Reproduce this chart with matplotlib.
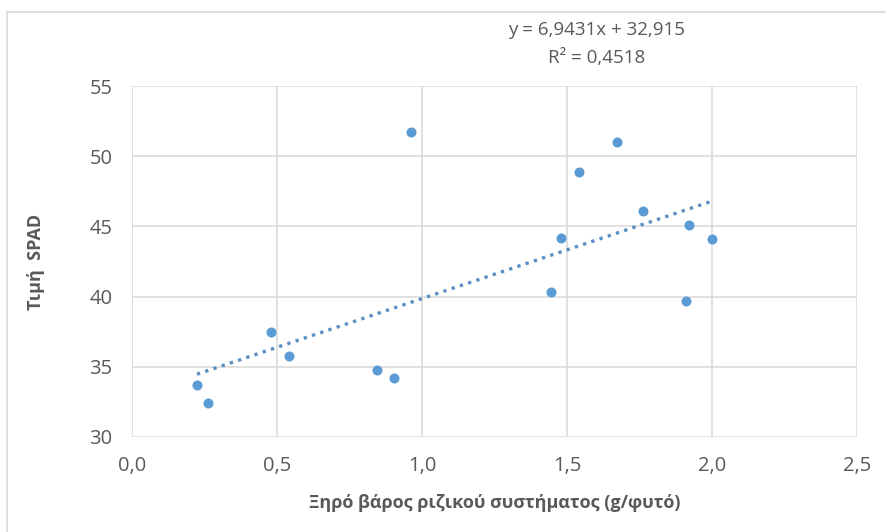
import matplotlib
matplotlib.use('Agg')
from matplotlib import pyplot as plt
from matplotlib.patches import Rectangle
import numpy as np

# dry root weight (g/plant) and SPAD value
root_weight = [0.224, 0.262, 0.479, 0.541, 0.845, 0.903, 0.962, 1.445,
               1.479, 1.541, 1.672, 1.762, 1.910, 1.921, 2.000]
spad = [33.7, 32.4, 37.5, 35.8, 34.8, 34.2, 51.7, 40.3,
        44.2, 48.9, 51.0, 46.1, 39.7, 45.1, 44.1]

# excel linear trendline
slope = 6.9431
intercept = 32.915
r_squared = 0.4518

x_ticks = [0.0, 0.5, 1.0, 1.5, 2.0, 2.5]
y_ticks = [30, 35, 40, 45, 50, 55]

blue = '#5b9bd5'
grey_txt = '#595959'

plt.rcParams['font.family'] = ['Open Sans', 'DejaVu Sans']

fig = plt.figure(figsize=(8.87, 5.32), dpi=100)
ax = fig.add_axes([0.1488, 0.1786, 0.8174, 0.6597])

# faint outer frame like the excel chart area
fig.patches.append(Rectangle((0.008, -0.01), 1.0, 0.988, transform=fig.transFigure,
                             fill=False, edgecolor='#d9d9d9', linewidth=1.2))

ax.scatter(root_weight, spad, s=52, color=blue, zorder=3, linewidths=0)

xs = np.array([min(root_weight), max(root_weight)])
ax.plot(xs, slope * xs + intercept, linestyle=(0, (1, 1.6)), color='#5a8fc4',
        linewidth=2.4, zorder=2)

ax.set_xlim(0, 2.5)
ax.set_ylim(30, 55)
ax.set_xticks(x_ticks)
ax.set_yticks(y_ticks)
ax.set_xticklabels([('%.1f' % t).replace('.', ',') for t in x_ticks])
ax.set_yticklabels([str(t) for t in y_ticks])
ax.tick_params(length=0, labelsize=14.5, colors=grey_txt)
ax.tick_params(axis='x', pad=14)
ax.tick_params(axis='y', pad=14)
ax.grid(True, color='#d9d9d9', linewidth=1.1)
ax.set_axisbelow(True)
for s in ax.spines.values():
    s.set_visible(False)

ax.set_xlabel('Ξηρό βάρος ριζικού συστήματος (g/φυτό)', fontsize=13,
              fontweight='bold', color=grey_txt, labelpad=13)
ax.set_ylabel('Τιμή  SPAD', fontsize=13, fontweight='bold', color=grey_txt, labelpad=32)

eq = 'y = %sx + %s' % (str(slope).replace('.', ','), str(intercept).replace('.', ','))
fig.text(0.673, 0.944, eq, ha='center', va='center', fontsize=13.5, color=grey_txt)
fig.text(0.673, 0.891, 'R² = ' + str(r_squared).replace('.', ','), ha='center',
         va='center', fontsize=13.5, color=grey_txt)

fig.savefig('out.png', dpi=100)
